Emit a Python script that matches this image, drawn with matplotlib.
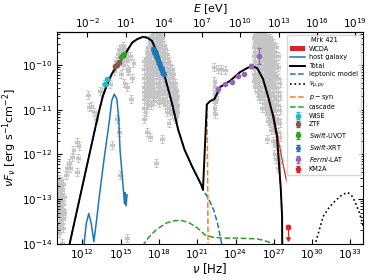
import matplotlib as mpl
mpl.use('Agg')
import matplotlib.pyplot as plt
import numpy as np

# every value below is log10(nu / Hz) and log10(nuFnu / erg s^-1 cm^-2)

# models
total_nu = [11.0, 12.0, 13.0, 13.3, 13.6, 13.9, 14.3, 14.8, 15.3, 15.9, 16.3, 16.75, 17.1, 17.45,
            17.9, 18.45, 19.0, 19.5, 20.0, 20.6, 21.3, 21.45, 21.75, 22.0, 22.35, 22.8, 23.55,
            24.35, 24.9, 25.3, 25.7, 26.15, 26.55, 26.95, 27.25, 27.4, 27.55, 27.65, 27.66]
total_f = [-14.0, -12.71, -11.42, -11.04, -10.7, -10.47, -10.2, -9.98, -9.78, -9.5, -9.42, -9.37,
           -9.39, -9.46, -9.75, -10.25, -10.83, -11.44, -11.89, -12.27, -12.67, -12.79, -10.88,
           -10.81, -10.76, -10.49, -10.36, -10.16, -10.07, -10.02, -10.07, -10.31, -10.7, -11.15,
           -11.6, -12.18, -12.79, -13.4, -14.2]

lep_tail_nu = [21.45, 21.9, 22.3, 22.6, 22.95]
lep_tail_f = [-12.79, -13.0, -13.25, -13.55, -14.05]

psyn_rise_nu = [21.85, 21.8, 21.76]
psyn_rise_f = [-14.1, -12.0, -10.88]

host_nu = [12.1, 12.3, 12.5, 12.7, 12.9, 13.1, 13.3, 13.7, 14.1, 14.3, 14.5, 14.7, 14.85, 14.95,
           15.1, 15.2, 15.3, 15.35, 15.42, 15.5]
host_f = [-14.1, -13.55, -13.32, -13.55, -13.95, -13.5, -13.0, -12.1, -11.28, -10.8, -10.65,
          -10.76, -11.2, -11.9, -12.4, -12.75, -13.1, -12.85, -13.15, -12.9]

casc_nu = [16.7, 17.2, 17.8, 18.6, 19.25, 19.8, 20.3, 20.8, 21.2, 21.6, 22.2, 23.0, 24.0, 25.0,
           25.7, 26.2, 26.7, 27.3]
casc_f = [-14.05, -13.85, -13.68, -13.53, -13.48, -13.48, -13.52, -13.6, -13.69, -13.8, -13.85,
          -13.87, -13.87, -13.88, -13.89, -13.92, -13.97, -14.05]

numu_nu = [30.2, 30.86, 31.3, 31.65, 32.35, 32.8, 33.1, 33.4, 33.7, 34.0]
numu_f = [-14.05, -13.39, -13.2, -13.08, -12.9, -12.85, -12.92, -13.08, -13.3, -13.6]

# data
wcda_nu = [26.9, 27.2, 27.5, 27.8, 27.95]
wcda_hi = [-10.98, -11.42, -11.88, -12.3, -12.5]
wcda_lo = [-11.08, -11.54, -12.0, -12.44, -12.64]

wise_nu = [13.8, 13.9]
wise_f = [-10.43, -10.31]
ztf_nu = [14.55, 14.7, 14.85]
ztf_f = [-10.03, -9.99, -9.94]
uvot_nu = [15.05, 15.15, 15.25]
uvot_f = [-9.82, -9.78, -9.76]
xrt_nu = [17.55, 17.6, 17.65, 17.7, 17.75, 17.8, 17.85, 17.9, 17.95, 18.0, 18.05, 18.1, 18.15,
          18.2, 18.25, 18.3, 18.4]
xrt_f = [-9.64, -9.66, -9.7, -9.72, -9.76, -9.8, -9.84, -9.88, -9.92, -9.96, -9.99, -10.03,
         -10.07, -10.1, -10.14, -10.17, -10.2]
fermi_nu = [22.65, 23.2, 23.7, 24.2, 24.7, 25.2, 25.85]
fermi_f = [-10.54, -10.43, -10.38, -10.25, -10.2, -10.02, -9.8]
fermi_err = [0.02, 0.02, 0.02, 0.02, 0.03, 0.04, 0.17]
km2a_nu = [28.1]
km2a_f = [-13.62]
km2a_ul = [-13.9]

# archival points (grey)
grey_low = [(10.15, -12.55), (10.2, -12.65), (10.25, -12.75), (10.3, -12.6), (10.15, -12.85),
            (10.3, -12.9), (10.2, -13.0), (10.35, -13.05), (10.15, -13.15), (10.25, -13.2),
            (10.4, -13.25), (10.2, -13.35), (10.3, -13.4), (10.45, -13.45), (10.15, -13.5),
            (10.35, -13.55), (10.25, -13.65), (10.5, -13.1), (10.55, -12.95), (10.6, -13.3),
            (10.1, -12.7), (10.1, -12.95), (10.1, -13.25), (10.1, -13.6), (10.4, -12.8),
            (10.45, -12.65), (10.35, -13.3), (10.45, -13.65), (10.25, -12.95), (10.2, -13.75),
            (10.4, -13.98), (10.7, -12.45), (10.8, -12.3), (10.95, -12.2), (11.0, -12.3),
            (11.2, -12.05), (11.3, -11.89), (11.55, -11.73), (11.65, -12.07), (11.55, -12.4),
            (11.7, -11.82), (12.45, -10.68), (12.5, -10.94), (12.7, -10.92), (12.9, -11.06),
            (13.1, -11.21), (13.35, -10.58), (13.5, -10.6), (13.7, -10.43), (14.15, -10.43),
            (14.45, -10.13), (14.7, -11.21), (14.85, -11.5), (14.95, -12.45), (14.3, -11.78),
            (15.5, -13.87), (14.6, -9.9), (14.8, -9.75), (14.9, -9.65), (15.0, -9.7),
            (15.1, -9.62), (15.2, -9.58), (15.3, -9.65), (15.4, -9.72), (15.5, -9.9),
            (15.6, -10.1), (15.2, -10.0), (15.0, -10.2), (15.3, -10.4), (15.5, -10.5),
            (15.9, -10.3), (16.0, -9.95), (15.6, -10.13), (15.8, -10.76), (15.4, -9.85),
            (15.7, -9.8), (15.1, -9.9)]

xray_nu = [16.85, 16.95, 17.05, 17.15, 17.3, 17.4, 17.5, 17.6, 17.75, 17.9, 18.0, 18.1, 18.25,
           18.4, 18.5, 18.6, 18.75, 18.9, 19.0, 19.1, 19.25, 19.35, 19.45]
xray_f = [[-9.9, -10.1, -10.3, -10.5, -10.6, -10.75, -10.95, -11.2],
          [-10.0, -10.2, -10.4, -10.65, -10.85, -11.05],
          [-9.7, -9.85, -10.0, -10.2, -10.4, -10.55, -10.7, -11.5],
          [-9.6, -9.75, -9.95, -10.1, -10.3, -10.5, -10.65, -10.9],
          [-9.45, -9.6, -9.8, -10.0, -10.15, -10.35, -10.6, -10.8, -11.6],
          [-9.35, -9.5, -9.7, -9.9, -10.05, -10.25, -10.45, -10.65, -10.9],
          [-9.3, -9.45, -9.55, -9.7, -9.9, -10.1, -10.3, -10.5, -10.7],
          [-9.28, -9.4, -9.6, -9.8, -10.0, -10.2, -10.4, -10.6, -10.8],
          [-9.28, -9.4, -9.55, -9.75, -9.95, -10.15, -10.4, -10.65, -12.2],
          [-9.27, -9.38, -9.5, -9.7, -9.9, -10.1, -10.3, -10.5, -10.7],
          [-9.3, -9.45, -9.6, -9.8, -10.0, -10.2, -10.4, -10.6, -10.85],
          [-9.35, -9.5, -9.7, -9.9, -10.1, -10.3, -10.5, -10.75],
          [-9.4, -9.55, -9.7, -9.9, -10.1, -10.3, -10.55, -10.75, -11.65],
          [-9.55, -9.75, -9.95, -10.15, -10.35, -10.55, -10.8],
          [-9.65, -9.85, -10.05, -10.25, -10.45, -10.65, -10.9],
          [-9.75, -9.95, -10.15, -10.35, -10.55, -10.8, -11.05],
          [-9.9, -10.1, -10.3, -10.5, -10.7, -10.95, -11.3],
          [-10.0, -10.2, -10.4, -10.6, -10.8, -11.0],
          [-10.1, -10.3, -10.5, -10.7, -10.9, -11.1],
          [-10.2, -10.4, -10.6, -10.8, -11.0],
          [-10.4, -10.6, -10.8, -11.0, -11.2],
          [-10.55, -10.75, -10.95, -11.15],
          [-10.7, -10.9, -11.05]]

grey_gev = [(22.3, -10.05), (22.6, -10.08), (22.9, -10.1), (23.2, -10.12), (22.35, -10.35),
            (22.4, -10.5), (22.35, -10.65), (22.4, -10.8), (22.35, -10.95), (22.4, -11.1),
            (22.55, -10.6), (22.5, -10.75)]

tev_nu = [25.45, 25.55, 25.7, 25.8, 25.95, 26.05, 26.2, 26.3, 26.45, 26.55, 26.7, 26.8, 26.95,
          27.05, 27.2, 27.3, 27.45]
tev_f = [[-9.4, -9.6, -9.8, -10.0, -10.2, -10.35],
         [-9.35, -9.5, -9.7, -9.9, -10.1, -10.3, -10.5],
         [-9.3, -9.45, -9.6, -9.8, -10.0, -10.2, -10.4, -10.6],
         [-9.3, -9.4, -9.55, -9.7, -9.9, -10.1, -10.3, -10.5, -10.7],
         [-9.3, -9.45, -9.6, -9.75, -9.95, -10.15, -10.35, -10.55, -10.75],
         [-9.3, -9.4, -9.55, -9.7, -9.9, -10.1, -10.3, -10.5, -10.7, -10.95],
         [-9.3, -9.45, -9.6, -9.8, -10.0, -10.2, -10.4, -10.6, -10.85],
         [-9.35, -9.5, -9.65, -9.85, -10.05, -10.25, -10.45, -10.7, -10.95],
         [-9.35, -9.5, -9.7, -9.9, -10.1, -10.3, -10.5, -10.7, -10.9, -11.1, -11.66],
         [-9.4, -9.55, -9.75, -9.95, -10.15, -10.35, -10.55, -10.8, -11.0, -11.25],
         [-9.4, -9.6, -9.8, -10.0, -10.2, -10.4, -10.6, -10.8, -11.05, -11.3],
         [-9.45, -9.65, -9.85, -10.05, -10.25, -10.45, -10.7, -10.95, -11.2, -11.45],
         [-9.5, -9.7, -9.9, -10.1, -10.3, -10.5, -10.7, -10.9, -11.15, -11.4, -11.7],
         [-9.6, -9.8, -10.0, -10.2, -10.45, -10.7, -10.95, -11.2, -11.45, -11.75, -12.0],
         [-9.6, -9.8, -10.0, -10.25, -10.5, -10.75, -11.0, -11.25, -11.5, -11.8, -12.1],
         [-9.8, -10.05, -10.3, -10.6, -10.9, -11.2, -11.5, -11.8, -12.05, -12.3],
         [-10.4, -10.7, -11.0, -11.3, -11.6, -11.9, -12.2]]

h_ev = 4.135667e-15


def lin(a):
    return 10 ** np.asarray(a, dtype=float)


def dex(logy, d):
    y = lin(logy)
    d = np.broadcast_to(np.asarray(d, dtype=float), y.shape)
    return [y - y * 10 ** -d, y * 10 ** d - y]


fig = plt.figure(figsize=(3.74, 2.80), dpi=100)
ax = fig.add_axes([0.152, 0.129, 0.819, 0.757])
ax.set_xscale('log')
ax.set_yscale('log')

# grey archive
gx = [p[0] for p in grey_low] + [p[0] for p in grey_gev]
gy = [p[1] for p in grey_low] + [p[1] for p in grey_gev]
for nu, col in zip(xray_nu + tev_nu, xray_f + tev_f):
    gx += [nu] * len(col)
    gy += col
ax.errorbar(lin(gx), lin(gy), xerr=dex(gx, 0.15), yerr=dex(gy, 0.09), fmt='o', ms=1.5,
            color='#c4c4c4', elinewidth=0.7, capsize=1.2, capthick=0.7, zorder=1)

# models
blue = '#1f77b4'
n_syn = len([v for v in total_nu if v <= 21.45])
lep_nu = total_nu[:n_syn] + lep_tail_nu[1:]
lep_f = total_f[:n_syn] + lep_tail_f[1:]
psyn_nu = psyn_rise_nu + [v for v in total_nu if v >= 22.0]
psyn_f = psyn_rise_f + [f for v, f in zip(total_nu, total_f) if v >= 22.0]

wc = ax.fill_between(lin(wcda_nu), lin(wcda_lo), lin(wcda_hi), color='#d62728', lw=0, zorder=2)
hg, = ax.plot(lin(host_nu), lin(host_f), color=blue, lw=1.1, zorder=3)
lp, = ax.plot(lin(lep_nu), lin(lep_f), '--', color=blue, lw=1.1, zorder=3)
ps, = ax.plot(lin(psyn_nu), lin(psyn_f), '--', color='#ff7f0e', lw=1.1, zorder=3)
cs, = ax.plot(lin(casc_nu), lin(casc_f), '--', color='#2ca02c', lw=1.1, zorder=3)
nm, = ax.plot(lin(numu_nu), lin(numu_f), ':', color='k', lw=1.2, zorder=3)
tt, = ax.plot(lin(total_nu), lin(total_f), color='k', lw=1.4, zorder=4)

# data
eb = dict(fmt='o', ms=3, elinewidth=0.8, capsize=1.2, zorder=5)
wi = ax.errorbar(lin(wise_nu), lin(wise_f), yerr=dex(wise_f, 0.03), color='#17becf', **eb)
zt = ax.errorbar(lin(ztf_nu), lin(ztf_f), yerr=dex(ztf_f, 0.03), color='#8c564b', **eb)
uv = ax.errorbar(lin(uvot_nu), lin(uvot_f), yerr=dex(uvot_f, 0.03), color='#2ca02c', **eb)
xr = ax.errorbar(lin(xrt_nu), lin(xrt_f), yerr=dex(xrt_f, 0.05), color=blue, fmt='o', ms=2.5,
                 elinewidth=0.8, capsize=1.2, zorder=5)
fe = ax.errorbar(lin(fermi_nu), lin(fermi_f), yerr=dex(fermi_f, fermi_err), color='#9467bd', **eb)
km = ax.errorbar(lin(km2a_nu), lin(km2a_f), yerr=dex(km2a_f, 0.05), color='#d62728', **eb)
for n, f, u in zip(km2a_nu, km2a_f, km2a_ul):
    ax.plot(lin([n, n]), lin([f, u]), color='#d62728', lw=0.8, zorder=5)
    ax.plot(lin(n), lin(u), 'v', color='#d62728', ms=2.5, zorder=5)

ax.set_xlim(1e10, 1e34)
ax.set_ylim(1e-14, 5.5e-10)
ax.set_xticks([10.0 ** k for k in range(12, 34, 3)])
ax.xaxis.set_minor_locator(mpl.ticker.NullLocator())
ax.tick_params(which='both', direction='in', right=True, labelsize=7.5)
ax.tick_params(axis='x', pad=2.5)
ax.set_xlabel(r'$\nu$ [Hz]', fontsize=8.5, labelpad=0)
ax.set_ylabel(r'$\nu F_\nu$ [erg s$^{-1}$cm$^{-2}$]', fontsize=8, labelpad=2)

sec = ax.secondary_xaxis('top', functions=(lambda x: x * h_ev, lambda e: e / h_ev))
sec.set_xticks([10.0 ** k for k in range(-2, 20, 3)])
sec.xaxis.set_minor_locator(mpl.ticker.NullLocator())
sec.tick_params(direction='in', labelsize=7.5, pad=1.5)
sec.set_xlabel(r'$E$ [eV]', fontsize=8, labelpad=2.5)

handles = [wc, hg, tt, lp, nm, ps, cs, wi, zt, uv, xr, fe, km]
labels = ['WCDA', 'host galaxy', 'Total', 'leptonic model', r'$\nu_{\mu,p\nu}$',
          r'$p-\mathrm{syn}$', 'cascade', 'WISE', 'ZTF', r'$\it{Swift}$-UVOT',
          r'$\it{Swift}$-XRT', r'$\it{Fermi}$-LAT', 'KM2A']
ax.legend(handles, labels, loc='upper right', fontsize=4.7, title='Mrk 421', title_fontsize=4.7,
          labelspacing=0.38, handlelength=2.2, handletextpad=0.6, borderpad=0.45,
          borderaxespad=0.4)

fig.savefig('out.png', dpi=100)
